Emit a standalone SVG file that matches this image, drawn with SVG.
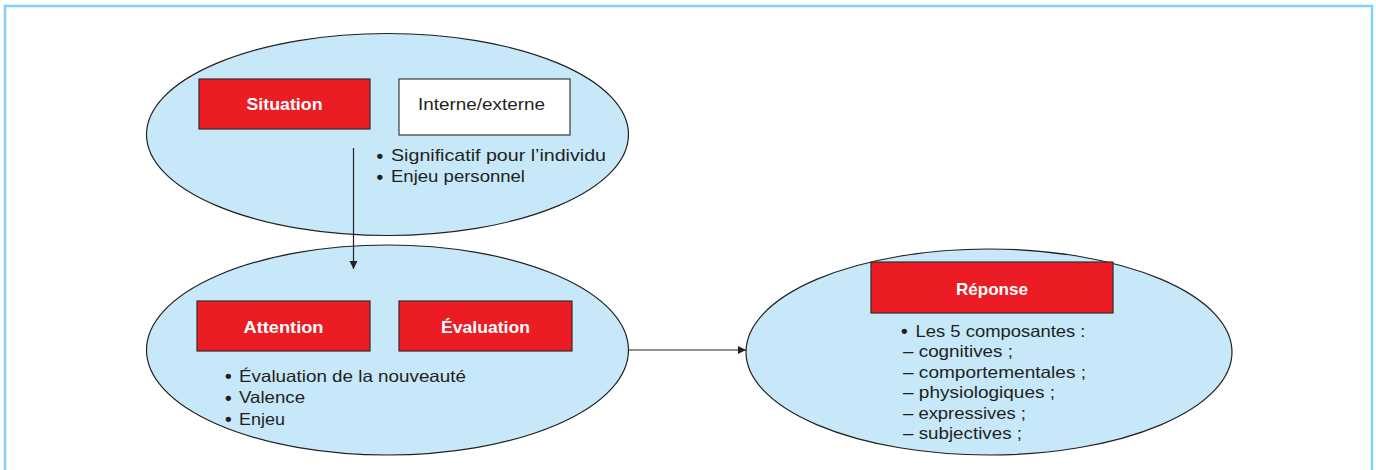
<svg xmlns="http://www.w3.org/2000/svg" width="1376" height="470" viewBox="0 0 1376 470">
  <style>
    .frame { fill: none; stroke: #7fd3f4; stroke-width: 2.5; }
    .bubble { fill: #c6e8f9; stroke: #231f20; stroke-width: 1.2; }
    .red { fill: #ec1c24; stroke: #3a2a2a; stroke-width: 1.2; }
    .white { fill: #ffffff; stroke: #3a3a3a; stroke-width: 1.2; }
    .title { font-family: "Liberation Sans", Arial, sans-serif; font-weight: bold; fill: #ffffff; text-anchor: middle; }
    .txt { font-family: "Liberation Sans", Arial, sans-serif; fill: #231f20; }
    .dot { font-family: "Liberation Sans", Arial, sans-serif; fill: #231f20; font-size: 19px; font-weight: bold; }
    .link { stroke: #231f20; stroke-width: 1.2; fill: none; }
  </style>
  <defs>
    <marker id="arrow" viewBox="0 0 10 10" refX="10" refY="5" markerWidth="8" markerHeight="11" markerUnits="userSpaceOnUse" orient="auto">
      <path d="M0,0 L10,5 L0,10 Z" fill="#231f20"/>
    </marker>
  </defs>

  <rect class="frame" x="5" y="6" width="1367" height="480"/>

  <g id="situation">
    <ellipse class="bubble" cx="387.5" cy="134.5" rx="241" ry="101"/>
    <rect class="red" x="199" y="79" width="171" height="50"/>
    <text class="title" x="284.5" y="110" font-size="17" textLength="76" lengthAdjust="spacingAndGlyphs">Situation</text>
    <rect class="white" x="399" y="79" width="171" height="56"/>
    <text class="txt" x="418" y="110" font-size="17" textLength="127" lengthAdjust="spacingAndGlyphs">Interne/externe</text>
    <text class="dot" x="376.5" y="161.5">•</text>
    <text class="txt" x="391" y="161" font-size="17" textLength="215" lengthAdjust="spacingAndGlyphs">Significatif pour l’individu</text>
    <text class="dot" x="376.5" y="182.5">•</text>
    <text class="txt" x="391" y="182" font-size="17" textLength="134" lengthAdjust="spacingAndGlyphs">Enjeu personnel</text>
  </g>

  <g id="appraisal">
    <ellipse class="bubble" cx="387.5" cy="350" rx="241" ry="105"/>
    <rect class="red" x="197" y="301" width="173" height="50"/>
    <text class="title" x="283.5" y="332.5" font-size="16.5" textLength="80" lengthAdjust="spacingAndGlyphs">Attention</text>
    <rect class="red" x="399" y="301" width="173" height="50"/>
    <text class="title" x="485.5" y="332.5" font-size="16.5" textLength="89" lengthAdjust="spacingAndGlyphs">Évaluation</text>
    <text class="dot" x="225" y="382">•</text>
    <text class="txt" x="239" y="381.5" font-size="16.5" textLength="227" lengthAdjust="spacingAndGlyphs">Évaluation de la nouveauté</text>
    <text class="dot" x="225" y="403.5">•</text>
    <text class="txt" x="239" y="403" font-size="16.5" textLength="66" lengthAdjust="spacingAndGlyphs">Valence</text>
    <text class="dot" x="225" y="425">•</text>
    <text class="txt" x="239" y="424.5" font-size="16.5" textLength="46" lengthAdjust="spacingAndGlyphs">Enjeu</text>
  </g>

  <g id="reponse">
    <ellipse class="bubble" cx="989" cy="352" rx="243" ry="103"/>
    <rect class="red" x="871" y="262" width="242" height="51"/>
    <text class="title" x="992" y="295" font-size="17" textLength="72" lengthAdjust="spacingAndGlyphs">Réponse</text>
    <text class="dot" x="901" y="337">•</text>
    <text class="txt" x="915.5" y="336.5" font-size="16.5" textLength="170" lengthAdjust="spacingAndGlyphs">Les 5 composantes :</text>
    <text class="txt" x="903" y="357" font-size="16.5" textLength="110" lengthAdjust="spacingAndGlyphs">– cognitives ;</text>
    <text class="txt" x="903" y="377.5" font-size="16.5" textLength="183" lengthAdjust="spacingAndGlyphs">– comportementales ;</text>
    <text class="txt" x="903" y="398" font-size="16.5" textLength="152" lengthAdjust="spacingAndGlyphs">– physiologiques ;</text>
    <text class="txt" x="903" y="418.5" font-size="16.5" textLength="123" lengthAdjust="spacingAndGlyphs">– expressives ;</text>
    <text class="txt" x="903" y="439" font-size="16.5" textLength="119" lengthAdjust="spacingAndGlyphs">– subjectives ;</text>
  </g>

  <g id="connectors">
    <line class="link" x1="353.5" y1="148" x2="353.5" y2="269" marker-end="url(#arrow)"/>
    <line class="link" x1="628.5" y1="350" x2="746" y2="350" marker-end="url(#arrow)"/>
  </g>
</svg>
